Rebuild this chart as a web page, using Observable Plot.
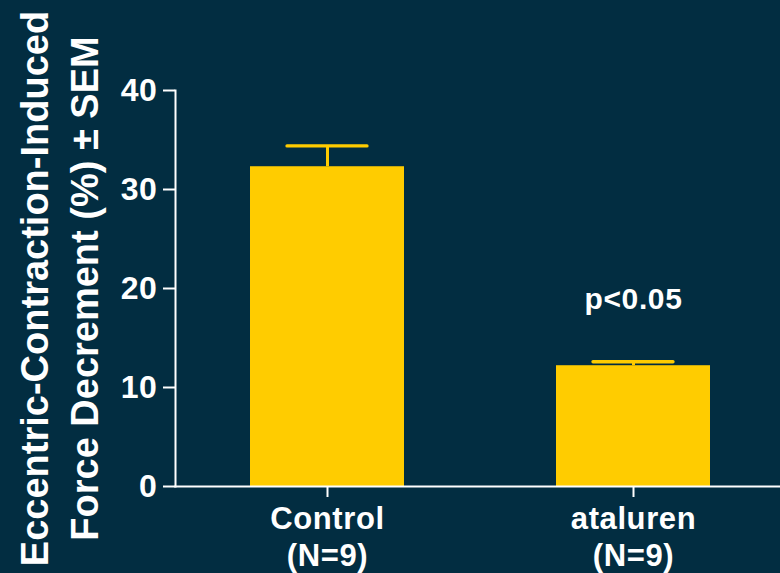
<!DOCTYPE html>
<html>
<head>
<meta charset="utf-8">
<script src="https://cdn.jsdelivr.net/npm/d3@7"></script>
<script src="https://cdn.jsdelivr.net/npm/@observablehq/plot@0.6"></script>
<style>
  html, body { margin: 0; padding: 0; background: #022d41; }
  #chart svg { display: block; }
  #chart svg .wide text, #chart svg text.wide { letter-spacing: 0.6px; }
</style>
</head>
<body>
<div id="chart"></div>
<script>
const groups = ["Control", "ataluren"];
const groupLabels = ["Control\n(N=9)", "ataluren\n(N=9)"];
const means = [32.3, 12.2];
const sems = [2.1, 0.4];
const yTicks = [0, 10, 20, 30, 40];
const titleLines = ["Eccentric-Contraction-Induced", "Force Decrement (%) \u00b1 SEM"];
const annotation = {group: "ataluren", text: "p<0.05"};

const data = groups.map((g, i) => ({group: g, mean: means[i], sem: sems[i], top: means[i] + sems[i]}));
const labelMap = new Map(groups.map((g, i) => [g, groupLabels[i]]));
const annRow = data.find(d => d.group === annotation.group);

const fontFamily = "'Liberation Sans', Arial, sans-serif";
const yellow = "#ffcc00";
const white = "#ffffff";

const chart = Plot.plot({
  width: 780,
  height: 573,
  marginLeft: 175,
  marginRight: 0,
  marginTop: 90,
  marginBottom: 87,
  style: {background: "#022d41", color: white, fontFamily, fontWeight: "bold"},
  x: {domain: groups, paddingInner: 0.497, paddingOuter: 0.237, align: 0.517, label: null},
  y: {domain: [0, 40], label: null},
  marks: [
    Plot.barY(data, {x: "group", y: "mean", fill: yellow}),
    Plot.ruleX(data, {x: "group", y1: "mean", y2: "top", stroke: yellow, strokeWidth: 3}),
    Plot.tickY(data, {x: "group", y: "top", stroke: yellow, strokeWidth: 3.3, strokeLinecap: "round", insetLeft: 37, insetRight: 37}),
    Plot.frame({anchor: "left", stroke: white, strokeWidth: 2}),
    Plot.frame({anchor: "bottom", stroke: white, strokeWidth: 2}),
    Plot.axisY({ticks: yTicks, tickSize: 12, tickPadding: 6, fontSize: 32, fontWeight: "bold", stroke: white, strokeWidth: 2, fill: white, label: null, className: "wide"}),
    Plot.axisX({tickSize: 11, tickPadding: 5, fontSize: 31, fontWeight: "bold", lineHeight: 1.19, stroke: white, strokeWidth: 2, fill: white, label: null, className: "wide", tickFormat: (d) => labelMap.get(d)}),
    Plot.text([annotation.text], {x: [annRow.group], y: [annRow.top], text: (d) => d, fill: white, fontSize: 30, fontWeight: "bold", lineAnchor: "bottom", dy: -53, className: "wide"}),
    Plot.text([titleLines.join("\n")], {frameAnchor: "left", text: (d) => d, rotate: -90, fill: white, fontSize: 38, fontWeight: "bold", lineHeight: 1.316, textAnchor: "middle", dx: -119})
  ]
});
document.getElementById("chart").appendChild(chart);
</script>
</body>
</html>
